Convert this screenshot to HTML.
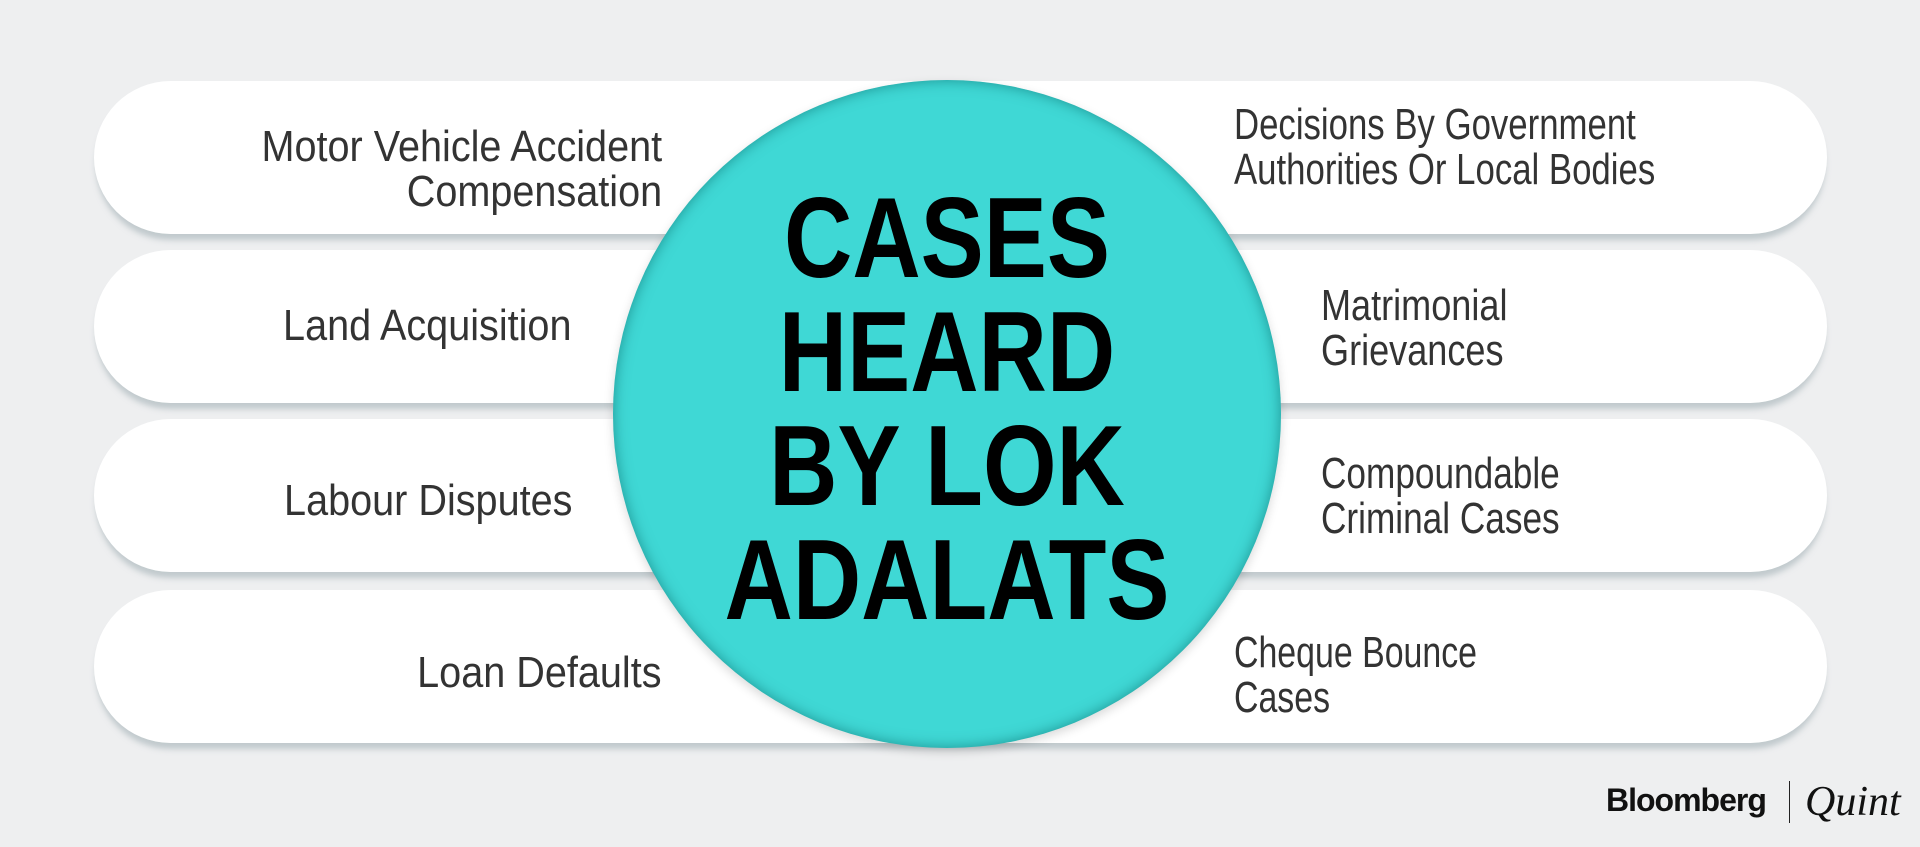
<!DOCTYPE html>
<html><head><style>
body{margin:0;width:1920px;height:847px;background:#eeeff0;position:relative;overflow:hidden;font-family:"Liberation Sans",sans-serif}
.pill{position:absolute;left:94px;width:1733px;height:153px;background:#fff;border-radius:77px;box-shadow:0 8px 6px -2px rgba(150,165,172,.5)}
.circle{position:absolute;left:613px;top:80px;width:668px;height:668px;border-radius:50%;background:#3fd8d5;box-shadow:inset 0 0 14px rgba(0,90,90,.55),0 4px 10px rgba(0,0,0,.15)}
.t{position:absolute;font-size:44px;color:#333;white-space:nowrap;line-height:45px}
.l{right:1258px;transform:scaleX(.9);transform-origin:right center;text-align:right}
.r{transform-origin:left center}
.title{position:absolute;left:613px;width:668px;text-align:center;font-weight:bold;font-size:114px;line-height:114px;top:182px;color:#000;transform:scaleX(.83)}
</style></head><body>
<div class="pill" style="top:81px"></div>
<div class="pill" style="top:250px"></div>
<div class="pill" style="top:419px"></div>
<div class="pill" style="top:590px"></div>
<div class="circle"></div>
<div class="title">CASES<br>HEARD<br>BY LOK<br>ADALATS</div>

<div class="t l" style="top:124px">Motor Vehicle Accident<br>Compensation</div>
<div class="t l" style="right:1349px;top:303px">Land Acquisition</div>
<div class="t l" style="right:1348px;top:478px">Labour Disputes</div>
<div class="t l" style="top:650px">Loan Defaults</div>

<div class="t r" style="left:1234px;top:102px;transform:scaleX(.79)">Decisions By Government<br>Authorities Or Local Bodies</div>
<div class="t r" style="left:1321px;top:283px;transform:scaleX(.82)">Matrimonial<br>Grievances</div>
<div class="t r" style="left:1321px;top:451px;transform:scaleX(.8)">Compoundable<br>Criminal Cases</div>
<div class="t r" style="left:1234px;top:630px;transform:scaleX(.77)">Cheque Bounce<br>Cases</div>

<div style="position:absolute;left:1606px;top:782px;font-weight:bold;font-size:32px;letter-spacing:-1px;color:#111">Bloomberg</div>
<div style="position:absolute;left:1789px;top:781px;width:1px;height:42px;background:#222"></div>
<div style="position:absolute;left:1805px;top:778px;font-family:'Liberation Serif',serif;font-style:italic;font-size:42px;color:#111">Quint</div>
</body></html>
